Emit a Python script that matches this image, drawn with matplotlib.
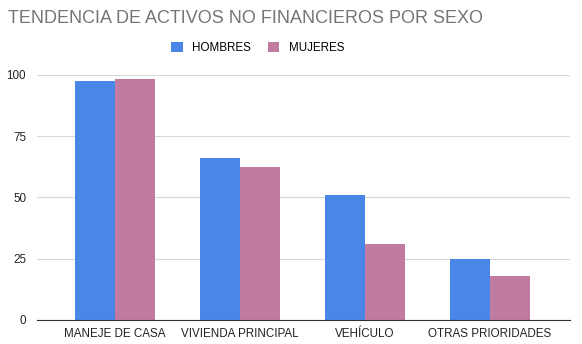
import matplotlib.pyplot as plt
import numpy as np

plt.rcParams['font.family'] = ['Liberation Sans', 'DejaVu Sans']

categories = ['MANEJE DE CASA', 'VIVIENDA PRINCIPAL', 'VEHÍCULO', 'OTRAS PRIORIDADES']
hombres = [97.6, 66.1, 51.2, 24.9]
mujeres = [98.4, 62.6, 30.8, 18.0]
yticks = [0, 25, 50, 75, 100]

fig = plt.figure(figsize=(5.82, 3.44), dpi=100)
ax = fig.add_axes([0.064, 0.070, 0.915, 0.712])

x = np.arange(len(categories))
w = 0.32
ax.bar(x - w / 2, hombres, w, color='#4a86e8', label='HOMBRES', zorder=3)
ax.bar(x + w / 2, mujeres, w, color='#c27ba0', label='MUJERES', zorder=3)

ax.set_xlim(-0.62, 3.64)
ax.set_ylim(0, 100)
ax.set_yticks(yticks)
ax.set_xticks(x)
ax.set_xticklabels(categories)
ax.tick_params(axis='both', length=0, labelsize=8.4, colors='#222222')
ax.tick_params(axis='x', pad=6)
ax.tick_params(axis='y', pad=8)
ax.grid(axis='y', color='#d9d9d9', linewidth=0.8, zorder=0)
for s in ['top', 'right', 'left']:
    ax.spines[s].set_visible(False)
ax.spines['bottom'].set_color('#333333')
ax.spines['bottom'].set_zorder(4)

fig.text(0.014, 0.945, 'TENDENCIA DE ACTIVOS NO FINANCIEROS POR SEXO', fontsize=13,
         color='#757575', va='center', ha='left')
fig.legend(loc='center', bbox_to_anchor=(0.443, 0.86), ncol=2, frameon=False,
           fontsize=8.4, handlelength=1.0, handleheight=1.0, columnspacing=1.4,
           handletextpad=0.8)

fig.savefig('out.png', dpi=100)
